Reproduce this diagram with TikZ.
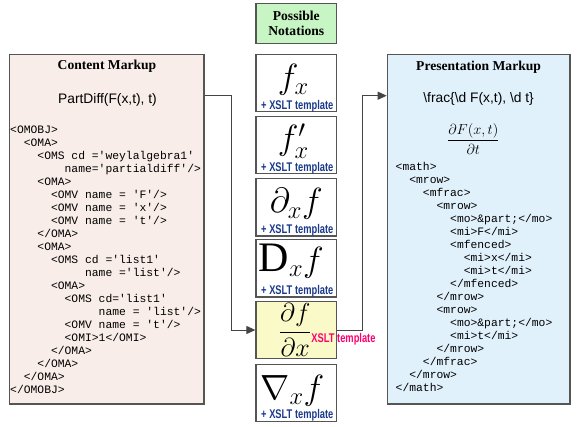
\RequirePackage{fix-cm}
\documentclass[tikz,border=0pt]{standalone}
\usepackage{amsmath}
\usepackage{fontspec}
\setmainfont{Liberation Serif}
\setsansfont{Liberation Sans}
\setmonofont{Liberation Mono}
\newfontfamily\xsltfont[FakeStretch=0.74]{Liberation Sans}
\usetikzlibrary{arrows.meta,positioning}

\definecolor{contentfill}{HTML}{F8EDE8}
\definecolor{presentfill}{HTML}{E1F1FB}
\definecolor{headfill}{HTML}{C8F5C4}
\definecolor{chosenfill}{HTML}{FAFAC8}
\definecolor{xsltblue}{HTML}{1A3A8A}
\definecolor{xsltpink}{HTML}{FF0070}
\definecolor{boxline}{HTML}{555555}
\definecolor{linkgray}{HTML}{444444}

\newcommand{\ind}[1]{\hspace*{#1\fontcharwd\font`M}}

\begin{document}
\begin{tikzpicture}[x=1pt,y=-1pt,
  markupbox/.style={draw=boxline,line width=1.2pt,inner sep=0pt},
  notebox/.style={draw=boxline,line width=1.2pt,fill=white,minimum width=80.7pt,minimum height=57.5pt,inner sep=0pt},
  heading/.style={font=\bfseries\fontsize{13.6}{15.3}\selectfont},
  sansline/.style={font=\sffamily\fontsize{13.8}{15}\selectfont},
  code/.style={font=\ttfamily\fontsize{11.35}{13}\selectfont,align=left,inner sep=0pt,anchor=north west},
  notation/.style={font=\fontsize{35}{35}\selectfont,inner sep=0pt},
  xslt/.style={font=\xsltfont\bfseries\fontsize{12.6}{12.6}\selectfont,text=xsltblue,inner sep=0pt},
  link/.style={draw=linkgray,line width=1pt,-{Triangle[length=9pt,width=8pt]}}]

\fill[white] (0,0) rectangle (581,426);
\useasboundingbox (0,0) rectangle (581,426);

% content side
\node[markupbox,fill=contentfill,minimum width=194.7pt,minimum height=349.7pt] (content) at (106.65,229.15) {};
\node[heading] (ctitle) at (107,66.7) {Content Markup};
\node[sansline] (cdiff) at (107.5,100) {PartDiff(F(x,t), t)};
\node[code] (ccode) at (10,126) {<OMOBJ>\\
\ind{2}<OMA>\\
\ind{4}<OMS cd ='weylalgebra1'\\
\ind{8}name='partialdiff'/>\\
\ind{4}<OMA>\\
\ind{6}<OMV name = 'F'/>\\
\ind{6}<OMV name = 'x'/>\\
\ind{6}<OMV name = 't'/>\\
\ind{4}</OMA>\\
\ind{4}<OMA>\\
\ind{6}<OMS cd ='list1'\\
\ind{11}name ='list'/>\\
\ind{6}<OMA>\\
\ind{8}<OMS cd='list1'\\
\ind{13}name = 'list'/>\\
\ind{8}<OMV name = 't'/>\\
\ind{8}<OMI>1</OMI>\\
\ind{6}</OMA>\\
\ind{4}</OMA>\\
\ind{2}</OMA>\\
</OMOBJ>};

% notations
\node[notebox,fill=headfill,minimum height=40pt,align=center,heading] (head) at (296.3,23.3) {Possible\\Notations};

\node[notebox] (n1) at (296.3,83) {};
\node[notebox] (n2) at (296.3,145) {};
\node[notebox] (n3) at (296.3,207.2) {};
\node[notebox] (n4) at (296.3,268.3) {};
\node[notebox,fill=chosenfill] (pd) at (296.3,330) {};
\node[notebox] (n6) at (296.3,392.9) {};

\node[notation] (f1) at ([xshift=-3pt,yshift=3pt]n1.center) {$f_x$};
\node[notation] (f2) at ([xshift=-3pt,yshift=4pt]n2.center) {$f'_x$};
\node[notation] (f3) at ([yshift=3pt]n3.center) {$\partial_x f$};
\node[notation] (f4) at ([xshift=-5pt,yshift=7pt]n4.center) {{\fontsize{42}{42}\selectfont D}$_x f$};
\node[notation,font=\fontsize{26}{26}\selectfont] (f5) at ([xshift=-1pt]pd.center) {$\dfrac{\partial f}{\partial x}$};
\node[notation] (f6) at ([xshift=-4pt,yshift=2pt]n6.center) {$\nabla_x f$};

\node[xslt] (t1) at ([xshift=1pt,yshift=6.6pt]n1.south) {+ XSLT template};
\node[xslt] (t2) at ([xshift=1pt,yshift=6.6pt]n2.south) {+ XSLT template};
\node[xslt] (t3) at ([xshift=1pt,yshift=6.6pt]n3.south) {+ XSLT template};
\node[xslt] (t4) at ([xshift=1pt,yshift=6.6pt]n4.south) {+ XSLT template};
\node[xslt,text=xsltpink] (t5) at ([xshift=47.2pt,yshift=-9pt]pd.center) {XSLT template};
\node[xslt] (t6) at ([xshift=1pt,yshift=6.6pt]n6.south) {+ XSLT template};

% presentation side
\node[markupbox,fill=presentfill,minimum width=182.7pt,minimum height=349.7pt] (present) at (478.65,229.15) {};
\node[heading] (ptitle) at (478.6,67.3) {Presentation Markup};
\node[sansline] (pfrac) at (478.6,99.3) {\textbackslash frac\{\textbackslash d F(x,t), \textbackslash d t\}};
\node[inner sep=0pt,font=\fontsize{14.5}{14.5}\selectfont] (pmath) at (473.4,139) {$\dfrac{\partial F(x,t)}{\partial t}$};
\node[code] (pcode) at (395.5,162) {<math>\\
\ind{2}<mrow>\\
\ind{4}<mfrac>\\
\ind{6}<mrow>\\
\ind{8}<mo>\&part;</mo>\\
\ind{8}<mi>F</mi>\\
\ind{8}<mfenced>\\
\ind{10}<mi>x</mi>\\
\ind{10}<mi>t</mi>\\
\ind{8}</mfenced>\\
\ind{6}</mrow>\\
\ind{6}<mrow>\\
\ind{8}<mo>\&part;</mo>\\
\ind{8}<mi>t</mi>\\
\ind{6}</mrow>\\
\ind{4}</mfrac>\\
\ind{2}</mrow>\\
</math>};

% connectors
\coordinate (lbend) at (231,95.7);
\coordinate (rbend) at (362,95.7);
\draw[link] (content.east |- lbend) -- (lbend) |- (pd.west);
\draw[link] (pd.east) -| (rbend) -- (present.west |- rbend);

\end{tikzpicture}
\end{document}
